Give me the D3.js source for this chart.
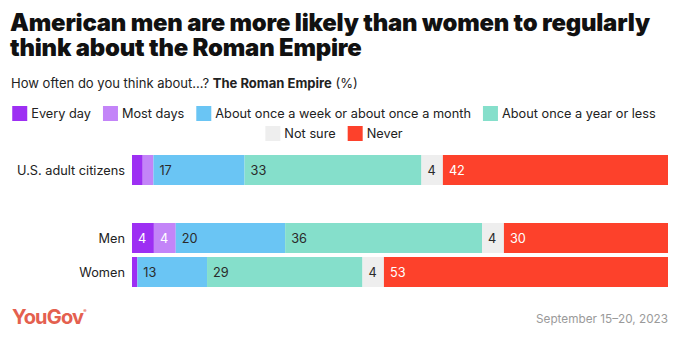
<!DOCTYPE html>
<html>
<head>
<meta charset="utf-8">
<script src="https://cdn.jsdelivr.net/npm/d3@7"></script>
<style>
  html, body { margin: 0; padding: 0; background: #fff; }
  svg { display: block; font-family: Inter, "Noto Sans", sans-serif; }
</style>
</head>
<body>
<div id="chart"></div>
<script>
// Answer categories, in stacking order
const categories = [
  "Every day",
  "Most days",
  "About once a week or about once a month",
  "About once a year or less",
  "Not sure",
  "Never"
];
const catColors = ["#9d2ff3", "#c384f8", "#6ac5f4", "#85dfcb", "#eeeeee", "#fd412b"];
const labelColors = ["#ffffff", "#ffffff", "#2a2a2a", "#2a2a2a", "#2a2a2a", "#ffffff"];

const groups = ["U.S. adult citizens", "Men", "Women"];
const usValues = [2, 2, 17, 33, 4, 42];
const menValues = [4, 4, 20, 36, 4, 30];
const womenValues = [1, 0, 13, 29, 4, 53];
const groupValues = [usValues, menValues, womenValues];

const titleLines = [
  "American men are more likely than women to regularly",
  "think about the Roman Empire"
];
const dateText = "September 15\u201320, 2023";

const width = 680, height = 340;
const svg = d3.select("#chart").append("svg")
  .attr("width", width)
  .attr("height", height);

// shrink/grow a text's font so it spans roughly the width seen in the reference
function fitWidth(sel, target) {
  const fs = +sel.attr("font-size");
  const w = sel.node().getComputedTextLength();
  sel.attr("font-size", (fs * target / w).toFixed(2));
}

// Title
const title = svg.append("text")
  .attr("fill", "#111")
  .attr("font-size", 23)
  .attr("font-weight", 900)
  .attr("letter-spacing", -0.2);
titleLines.forEach((line, i) => {
  title.append("tspan").attr("x", 10).attr("y", 31 + i * 25).text(line);
});
{
  const fs = +title.attr("font-size");
  const w = title.select("tspan").node().getComputedTextLength();
  title.attr("font-size", (fs * 640 / w).toFixed(2));
}

// Subtitle
const sub = svg.append("text")
  .attr("x", 11)
  .attr("y", 88)
  .attr("fill", "#222")
  .attr("font-size", 14);
sub.append("tspan").text("How often do you think about...? ");
sub.append("tspan").attr("font-weight", 700).text("The Roman Empire");
sub.append("tspan").text(" (%)");
fitWidth(sub, 347);

// Legend font size from the widest item's reference width
const probe = svg.append("text").attr("font-size", 14).text(categories[3]);
const legendFont = 14 * 154 / probe.node().getComputedTextLength();
probe.remove();

// Legend, two centred rows
const legendRows = [[0, 1, 2, 3], [4, 5]];
const legendCenter = 334;
const swatch = 15, swatchGap = 4, itemGap = 12;
legendRows.forEach((row, r) => {
  const g = svg.append("g");
  let x = 0;
  row.forEach((ci) => {
    g.append("rect")
      .attr("x", x).attr("y", 0)
      .attr("width", swatch).attr("height", swatch)
      .attr("fill", catColors[ci]);
    const t = g.append("text")
      .attr("x", x + swatch + swatchGap)
      .attr("y", 12)
      .attr("font-size", legendFont)
      .attr("fill", "#222")
      .text(categories[ci]);
    x += swatch + swatchGap + t.node().getComputedTextLength() + itemGap;
  });
  const total = x - itemGap;
  g.attr("transform", `translate(${legendCenter - total / 2},${106 + r * 20})`);
});

// Bars
const y = d3.scaleBand()
  .domain(["U.S. adult citizens", "spacer", "Men", "Women"])
  .range([155, 287])
  .paddingInner(4 / 34);

const barLeft = 132, barRight = 668;

groups.forEach((name, gi) => {
  const values = groupValues[gi];
  const x = d3.scaleLinear().domain([0, d3.sum(values)]).range([barLeft, barRight]);
  let acc = 0;
  const segs = values.map((v, i) => {
    const s = { i, v, x0: acc, x1: acc + v };
    acc += v;
    return s;
  });
  const g = svg.append("g");
  g.selectAll("rect")
    .data(segs)
    .join("rect")
    .attr("x", (d) => x(d.x0))
    .attr("y", y(name))
    .attr("width", (d) => x(d.x1) - x(d.x0))
    .attr("height", y.bandwidth())
    .attr("fill", (d) => catColors[d.i]);

  g.selectAll("text.val")
    .data(segs.filter((d) => x(d.x1) - x(d.x0) > 16))
    .join("text")
    .attr("class", "val")
    .attr("x", (d) => x(d.x0) + 6)
    .attr("y", y(name) + y.bandwidth() / 2)
    .attr("dy", "0.36em")
    .attr("font-size", legendFont)
    .attr("fill", (d) => labelColors[d.i])
    .text((d) => d.v);

  svg.append("text")
    .attr("x", 125)
    .attr("y", y(name) + y.bandwidth() / 2)
    .attr("dy", "0.36em")
    .attr("text-anchor", "end")
    .attr("font-size", legendFont)
    .attr("fill", "#222")
    .text(name);
});

// Footer
const logo = svg.append("text")
  .attr("x", 12)
  .attr("y", 324)
  .attr("fill", "#e4604f")
  .attr("font-size", 20)
  .attr("font-weight", 700)
  .attr("letter-spacing", -0.8);
logo.append("tspan").text("YouGov");
logo.append("tspan").attr("font-size", 5).attr("dy", -11).text("\u00ae");

const date = svg.append("text")
  .attr("x", 668)
  .attr("y", 323)
  .attr("text-anchor", "end")
  .attr("font-size", 13)
  .attr("fill", "#9a9a9a")
  .text(dateText);
fitWidth(date, 132);
</script>
</body>
</html>
